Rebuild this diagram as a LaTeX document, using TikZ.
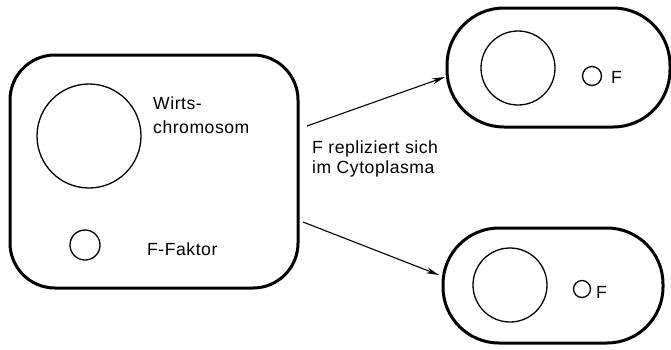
\documentclass[tikz,border=0pt]{standalone}
\usepackage{fontspec}
\setmainfont[LetterSpace=3]{Liberation Sans}
\usetikzlibrary{arrows.meta}
\begin{document}
\begin{tikzpicture}[x=1pt,y=-1pt,
  cell/.style={draw,line width=3pt,rounded corners=#1,inner sep=0pt},
  ring/.style={draw,line width=1.3pt,circle,inner sep=0pt},
  lbl/.style={font=\fontsize{17.6}{24}\selectfont,inner sep=0pt,align=left},
  arr/.style={line width=1.1pt,-{Stealth[length=13pt,width=6pt]}}]
\useasboundingbox (0,0) rectangle (671,349);
% cells
\node[cell=45pt,minimum width=288pt,minimum height=233pt] (big) at (154,171.5) {};
\node[cell=57pt,minimum width=223pt,minimum height=119pt] (up) at (558.5,67.5) {};
\node[cell=56pt,minimum width=220pt,minimum height=115pt] (lo) at (553,285.5) {};
% chromosomes and F factors
\node[ring,minimum size=104pt] (chr) at (89,136) {};
\node[ring,minimum size=30pt] (ff) at (85,245) {};
\node[ring,minimum size=74pt] (upchr) at (518,68) {};
\node[ring,minimum size=19pt] (upf) at (592,76) {};
\node[ring,minimum size=17pt] (lof) at (582,289) {};
\node[ring,minimum size=74pt] (lochr) at (510,285) {};
% labels
\node[lbl,anchor=base west] (tw) at (153,133) {Wirts-\\chromosom};
\node[lbl,anchor=base west] (tf) at (147,255) {F-Faktor};
\node[lbl,anchor=base west,font=\fontsize{17.6}{20}\selectfont] (trep) at (312,173) {F repliziert sich\\im Cytoplasma};
\node[lbl,anchor=base west] (upF) at (611,83) {F};
\node[lbl,anchor=base west] (loF) at (596,298) {F};
% arrows
\coordinate (a1s) at (307,126);
\coordinate (a1e) at (445,77);
\coordinate (a2s) at (303,222);
\coordinate (a2e) at (439,275);
\draw[arr] (a1s) -- (a1e);
\draw[arr] (a2s) -- (a2e);
\end{tikzpicture}
\end{document}
